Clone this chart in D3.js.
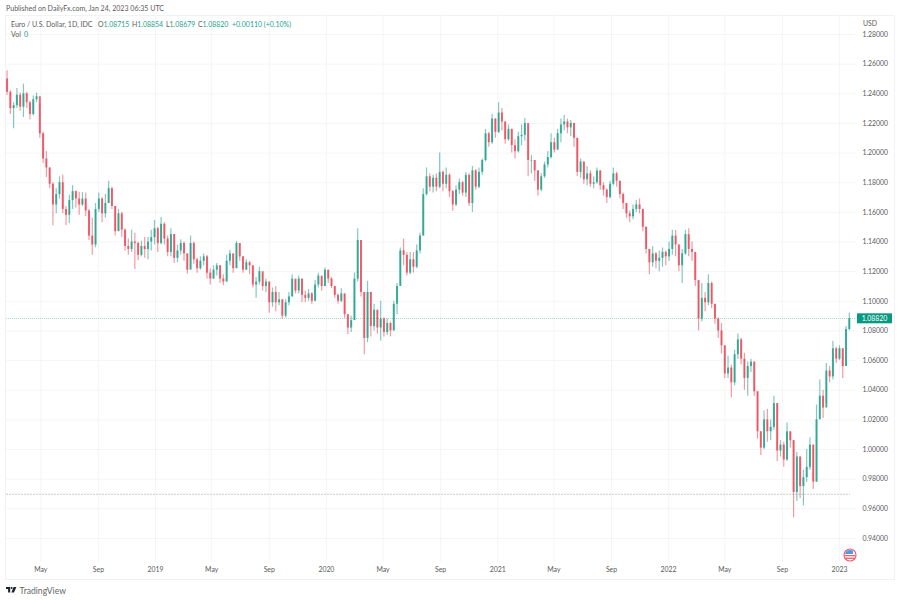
<!DOCTYPE html>
<html>
    <head>
        <meta charset="utf-8">
        <style type="text/css">
            body { margin: 0; background: #fff; font-family: Lato, sans-serif; }
            svg { display: block; }
        </style>
        <title>Euro / U.S. Dollar, 1D</title>
    </head>
    <body>
        <svg id='svgZone'></svg>
        <script src="https://cdn.jsdelivr.net/npm/d3@7"></script>
        <script>

// ============ Data (one bar per week) ============
var firstOpen = 1.2500;
var closes = [
    1.2410, 1.2300, 1.2320, 1.2390, 1.2310, 1.2400, 1.2340, 1.2260, 1.2360, 1.2380,
    1.2130, 1.1960, 1.1900, 1.1790, 1.1650, 1.1720, 1.1800, 1.1620, 1.1580, 1.1680,
    1.1740, 1.1690, 1.1650, 1.1690, 1.1610, 1.1440, 1.1380, 1.1620, 1.1690, 1.1590,
    1.1660, 1.1760, 1.1640, 1.1470, 1.1590, 1.1480, 1.1370, 1.1350, 1.1400, 1.1390,
    1.1310, 1.1370, 1.1350, 1.1400, 1.1430, 1.1490, 1.1390, 1.1520, 1.1420, 1.1330,
    1.1450, 1.1290, 1.1340, 1.1390, 1.1320, 1.1210, 1.1390, 1.1280, 1.1220, 1.1270,
    1.1300, 1.1190, 1.1150, 1.1210, 1.1240, 1.1150, 1.1130, 1.1270, 1.1320, 1.1220,
    1.1390, 1.1300, 1.1210, 1.1260, 1.1240, 1.1110, 1.1130, 1.1200, 1.1100, 1.1130,
    1.0990, 1.1060, 1.0990, 1.1010, 1.0900, 1.0990, 1.1030, 1.1150, 1.1070, 1.1150,
    1.1040, 1.1020, 1.1050, 1.1000, 1.1110, 1.1170, 1.1100, 1.1210, 1.1150, 1.1100,
    1.1040, 1.1000, 1.1050, 1.0910, 1.0820, 1.0870, 1.1150, 1.1410, 1.1060, 1.0750,
    1.1060, 1.0830, 1.0940, 1.0820, 1.0880, 1.0790, 1.0850, 1.0800, 1.0980, 1.1100,
    1.1340, 1.1310, 1.1190, 1.1280, 1.1230, 1.1340, 1.1440, 1.1720, 1.1840, 1.1770,
    1.1830, 1.1770, 1.1870, 1.1790, 1.1850, 1.1740, 1.1650, 1.1750, 1.1800, 1.1730,
    1.1850, 1.1660, 1.1880, 1.1770, 1.1870, 1.1950, 1.2130, 1.2070, 1.2230, 1.2140,
    1.2270, 1.2210, 1.2090, 1.2160, 1.2050, 1.2010, 1.2110, 1.2120, 1.2200, 1.1950,
    1.1950, 1.1880, 1.1750, 1.1840, 1.1920, 1.1970, 1.2070, 1.2020, 1.2130, 1.2190,
    1.2210, 1.2170, 1.2200, 1.2100, 1.1870, 1.1940, 1.1820, 1.1860, 1.1790, 1.1800,
    1.1880, 1.1780, 1.1750, 1.1700, 1.1790, 1.1860, 1.1810, 1.1720, 1.1660, 1.1590,
    1.1570, 1.1620, 1.1650, 1.1620, 1.1500, 1.1350, 1.1260, 1.1320, 1.1270, 1.1290,
    1.1330, 1.1300, 1.1350, 1.1440, 1.1380, 1.1240, 1.1320, 1.1450, 1.1350, 1.1330,
    1.1140, 1.0880, 1.1020, 1.0990, 1.1120, 1.0980, 1.0880, 1.0800, 1.0700, 1.0510,
    1.0550, 1.0450, 1.0640, 1.0740, 1.0610, 1.0480, 1.0560, 1.0590, 1.0390, 1.0120,
    1.0010, 1.0200, 1.0120, 1.0150, 1.0310, 0.9990, 1.0030, 0.9930, 1.0120, 1.0060,
    0.9710, 0.9950, 0.9750, 0.9810, 0.9880, 1.0030, 0.9780, 1.0200, 1.0360, 1.0280,
    1.0530, 1.0490, 1.0680, 1.0610, 1.0680, 1.0560, 1.0810, 1.0882
];
var highs = [
    1.2555, 1.2420, 1.2340, 1.2435, 1.2405, 1.2465, 1.2410, 1.2350, 1.2385, 1.2405,
    1.2330, 1.2140, 1.2010, 1.1900, 1.1800, 1.1760, 1.1840, 1.1850, 1.1640, 1.1715,
    1.1780, 1.1745, 1.1735, 1.1735, 1.1730, 1.1620, 1.1560, 1.1660, 1.1730, 1.1700,
    1.1720, 1.1810, 1.1770, 1.1640, 1.1620, 1.1600, 1.1490, 1.1420, 1.1480, 1.1460,
    1.1400, 1.1405, 1.1430, 1.1430, 1.1480, 1.1545, 1.1500, 1.1565, 1.1530, 1.1440,
    1.1490, 1.1450, 1.1380, 1.1415, 1.1400, 1.1320, 1.1440, 1.1400, 1.1290, 1.1300,
    1.1320, 1.1310, 1.1220, 1.1240, 1.1255, 1.1240, 1.1180, 1.1310, 1.1345, 1.1320,
    1.1405, 1.1390, 1.1300, 1.1280, 1.1270, 1.1240, 1.1160, 1.1230, 1.1190, 1.1150,
    1.1130, 1.1090, 1.1100, 1.1060, 1.1010, 1.1010, 1.1060, 1.1180, 1.1140, 1.1170,
    1.1150, 1.1070, 1.1080, 1.1060, 1.1140, 1.1190, 1.1160, 1.1225, 1.1210, 1.1160,
    1.1100, 1.1050, 1.1085, 1.1050, 1.0910, 1.0900, 1.1190, 1.1490, 1.1410, 1.1060,
    1.1135, 1.1060, 1.0980, 1.0940, 1.1000, 1.0890, 1.0880, 1.0860, 1.1000, 1.1120,
    1.1360, 1.1420, 1.1330, 1.1330, 1.1330, 1.1380, 1.1460, 1.1760, 1.1900, 1.1860,
    1.1850, 1.1860, 1.2000, 1.1880, 1.1900, 1.1860, 1.1750, 1.1780, 1.1825, 1.1810,
    1.1870, 1.1860, 1.1910, 1.1890, 1.1900, 1.1960, 1.2160, 1.2140, 1.2260, 1.2230,
    1.2340, 1.2300, 1.2210, 1.2190, 1.2160, 1.2090, 1.2140, 1.2190, 1.2235, 1.2190,
    1.1985, 1.1950, 1.1880, 1.1860, 1.1940, 1.2010, 1.2130, 1.2100, 1.2160, 1.2230,
    1.2256, 1.2230, 1.2220, 1.2200, 1.2100, 1.1960, 1.1940, 1.1910, 1.1880, 1.1840,
    1.1900, 1.1880, 1.1800, 1.1760, 1.1810, 1.1900, 1.1870, 1.1810, 1.1730, 1.1660,
    1.1610, 1.1650, 1.1680, 1.1690, 1.1620, 1.1500, 1.1350, 1.1370, 1.1330, 1.1340,
    1.1360, 1.1340, 1.1400, 1.1480, 1.1477, 1.1380, 1.1350, 1.1480, 1.1490, 1.1400,
    1.1330, 1.1140, 1.1120, 1.1060, 1.1180, 1.1130, 1.0980, 1.0890, 1.0850, 1.0700,
    1.0630, 1.0570, 1.0670, 1.0780, 1.0750, 1.0650, 1.0590, 1.0610, 1.0590, 1.0390,
    1.0120, 1.0260, 1.0270, 1.0200, 1.0360, 1.0310, 1.0060, 1.0050, 1.0180, 1.0120,
    1.0060, 0.9980, 0.9950, 0.9860, 1.0000, 1.0080, 1.0030, 1.0300, 1.0470, 1.0400,
    1.0580, 1.0560, 1.0730, 1.0690, 1.0700, 1.0680, 1.0830, 1.0920
];
var lows = [
    1.2390, 1.2260, 1.2165, 1.2300, 1.2280, 1.2240, 1.2300, 1.2225, 1.2250, 1.2340,
    1.2100, 1.1930, 1.1835, 1.1760, 1.1510, 1.1590, 1.1690, 1.1590, 1.1510, 1.1525,
    1.1620, 1.1630, 1.1580, 1.1640, 1.1570, 1.1410, 1.1310, 1.1360, 1.1600, 1.1530,
    1.1560, 1.1660, 1.1620, 1.1440, 1.1470, 1.1430, 1.1340, 1.1310, 1.1330, 1.1215,
    1.1275, 1.1300, 1.1290, 1.1280, 1.1340, 1.1380, 1.1330, 1.1380, 1.1380, 1.1300,
    1.1300, 1.1255, 1.1260, 1.1310, 1.1270, 1.1185, 1.1220, 1.1250, 1.1190, 1.1210,
    1.1240, 1.1150, 1.1110, 1.1150, 1.1170, 1.1120, 1.1105, 1.1130, 1.1240, 1.1190,
    1.1220, 1.1270, 1.1190, 1.1210, 1.1180, 1.1090, 1.1020, 1.1110, 1.1070, 1.1060,
    1.0920, 1.0960, 1.0930, 1.0970, 1.0880, 1.0890, 1.0970, 1.1030, 1.1050, 1.1050,
    1.0990, 1.0990, 1.1000, 1.0980, 1.1000, 1.1090, 1.1070, 1.1100, 1.1120, 1.1085,
    1.1020, 1.0980, 1.0990, 1.0885, 1.0777, 1.0790, 1.0870, 1.1130, 1.1030, 1.0640,
    1.0720, 1.0760, 1.0800, 1.0780, 1.0730, 1.0760, 1.0770, 1.0760, 1.0800, 1.0910,
    1.1100, 1.1240, 1.1170, 1.1180, 1.1190, 1.1220, 1.1320, 1.1440, 1.1710, 1.1740,
    1.1730, 1.1740, 1.1760, 1.1740, 1.1760, 1.1700, 1.1607, 1.1640, 1.1720, 1.1710,
    1.1700, 1.1640, 1.1600, 1.1750, 1.1760, 1.1850, 1.1940, 1.2040, 1.2060, 1.2100,
    1.2130, 1.2150, 1.2060, 1.2080, 1.2000, 1.1960, 1.2000, 1.2050, 1.2080, 1.1840,
    1.1860, 1.1810, 1.1710, 1.1740, 1.1830, 1.1900, 1.1960, 1.2000, 1.2020, 1.2070,
    1.2150, 1.2130, 1.2110, 1.2040, 1.1840, 1.1830, 1.1790, 1.1780, 1.1770, 1.1760,
    1.1790, 1.1750, 1.1710, 1.1660, 1.1690, 1.1780, 1.1770, 1.1690, 1.1620, 1.1560,
    1.1530, 1.1550, 1.1600, 1.1590, 1.1470, 1.1320, 1.1180, 1.1230, 1.1220, 1.1200,
    1.1230, 1.1240, 1.1270, 1.1310, 1.1300, 1.1200, 1.1120, 1.1310, 1.1300, 1.1270,
    1.1100, 1.0800, 1.0860, 1.0930, 1.0970, 1.0950, 1.0845, 1.0750, 1.0645, 1.0480,
    1.0480, 1.0350, 1.0430, 1.0610, 1.0570, 1.0400, 1.0360, 1.0520, 1.0360, 1.0070,
    0.9960, 1.0000, 1.0050, 1.0060, 1.0130, 0.9920, 0.9950, 0.9880, 0.9920, 1.0010,
    0.9540, 0.9650, 0.9670, 0.9620, 0.9780, 0.9860, 0.9730, 0.9780, 1.0210, 1.0210,
    1.0310, 1.0450, 1.0470, 1.0580, 1.0600, 1.0480, 1.0560, 1.0800
];
var lastBar = new Date(2023, 0, 23);

var priceTicks = [0.94, 0.96, 0.98, 1.00, 1.02, 1.04, 1.06, 1.08, 1.10, 1.12, 1.14,
                  1.16, 1.18, 1.20, 1.22, 1.24, 1.26, 1.28];
var timeTicks = [
    new Date(2018, 4, 1), new Date(2018, 8, 1), new Date(2019, 0, 1),
    new Date(2019, 4, 1), new Date(2019, 8, 1), new Date(2020, 0, 1),
    new Date(2020, 4, 1), new Date(2020, 8, 1), new Date(2021, 0, 1),
    new Date(2021, 4, 1), new Date(2021, 8, 1), new Date(2022, 0, 1),
    new Date(2022, 4, 1), new Date(2022, 8, 1), new Date(2023, 0, 1)
];
var lastPrice = 1.08820;
var supportPrice = 0.9695;
var legendParts = [
    ["O", "1.08715"], ["H", "1.08854"], ["L", "1.08679"], ["C", "1.08820"]
];

// ============ Constants ============
var UP_COLOR = '#1a9f8a';
var DOWN_COLOR = '#ee4455';
var TEXT_COLOR = '#5a5a5a';
var GRID_COLOR = '#f4f5f7';
var FONT_SIZE = 7.05;
var NUM_SIZE = 6.9;

var width = 900, height = 600;
var left = 6, right = 856, top_ = 15, bottom = 562;

var svg = d3.select('#svgZone')
    .attr('width', width)
    .attr('height', height);

// Axis scales
var x = d3.scaleTime()
    .domain([new Date(2019, 0, 1), new Date(2023, 0, 1)])
    .range([155, 839]);
var y = d3.scaleLinear()
    .domain([0.94, 1.28])
    .range([538, 34]);

// Join the arrays into bars, the open of a bar is the previous close
var bars = closes.map(function(c, i) {
    return {
        date: d3.timeDay.offset(lastBar, -7 * (closes.length - 1 - i)),
        open: i == 0 ? firstOpen : closes[i - 1],
        close: c,
        high: highs[i],
        low: lows[i]
    };
});
var barColor = d => d.close >= d.open ? UP_COLOR : DOWN_COLOR;

// ============ Frame and grid ============
svg.append('rect')
    .attr('x', 5.5)
    .attr('y', 15.5)
    .attr('width', 889)
    .attr('height', 564)
    .attr('fill', 'none')
    .attr('stroke', '#f0f2f5');

var yGrid = d3.axisLeft(y)
    .tickValues(priceTicks)
    .tickSize(right - left)
    .tickFormat('');
svg.append('g')
    .attr('transform', `translate(${right}, 0)`)
    .call(yGrid)
    .call(g => g.select('.domain').remove())
    .selectAll('line').attr('stroke', GRID_COLOR);

var xGrid = d3.axisTop(x)
    .tickValues(timeTicks)
    .tickSize(bottom - top_)
    .tickFormat('');
svg.append('g')
    .attr('transform', `translate(0, ${bottom})`)
    .call(xGrid)
    .call(g => g.select('.domain').remove())
    .selectAll('line').attr('stroke', GRID_COLOR);

// ============ Axes ============
var yAxis = d3.axisRight(y)
    .tickValues(priceTicks)
    .tickSize(0)
    .tickPadding(6.5)
    .tickFormat(d3.format('.5f'));
svg.append('g')
    .attr('transform', `translate(${right}, 0)`)
    .call(yAxis)
    .call(styleAxis);

var xAxis = d3.axisBottom(x)
    .tickValues(timeTicks)
    .tickSize(0)
    .tickPadding(5)
    .tickFormat(d => d.getMonth() == 0 ? d3.timeFormat('%Y')(d) : d3.timeFormat('%b')(d));
svg.append('g')
    .attr('transform', `translate(0, ${bottom})`)
    .call(xAxis)
    .call(styleAxis);

function styleAxis(g) {
    g.select('.domain').remove();
    g.selectAll('text')
        .attr('fill', TEXT_COLOR)
        .style('font-family', 'Lato, sans-serif')
        .style('font-size', NUM_SIZE + 'px');
}

// ============ Horizontal lines ============
svg.append('line')
    .attr('x1', left)
    .attr('x2', 850)
    .attr('y1', y(supportPrice))
    .attr('y2', y(supportPrice))
    .attr('stroke', '#c9cdc6')
    .attr('stroke-dasharray', '2 1')
    .attr('stroke-width', 1);
svg.append('line')
    .attr('x1', left)
    .attr('x2', right)
    .attr('y1', Math.round(y(lastPrice)) + 0.5)
    .attr('y2', Math.round(y(lastPrice)) + 0.5)
    .attr('stroke', UP_COLOR)
    .attr('stroke-opacity', 0.4)
    .attr('stroke-dasharray', '1 1');

// ============ Candles ============
var candles = svg.append('g')
    .selectAll('g')
    .data(bars)
    .enter()
    .append('g');
candles.append('line')
    .attr('x1', d => x(d.date))
    .attr('x2', d => x(d.date))
    .attr('y1', d => y(d.high))
    .attr('y2', d => y(d.low))
    .attr('stroke', barColor)
    .attr('stroke-opacity', 0.55)
    .attr('stroke-width', 1.2);
candles.append('rect')
    .attr('x', d => x(d.date) - 1)
    .attr('width', 2)
    .attr('y', d => y(Math.max(d.open, d.close)))
    .attr('height', d => Math.max(0.5, Math.abs(y(d.open) - y(d.close))))
    .attr('fill', barColor)
    .attr('fill-opacity', 0.8);

// ============ Last price label ============
svg.append('rect')
    .attr('x', 857)
    .attr('y', y(lastPrice) - 5)
    .attr('width', 35)
    .attr('height', 10)
    .attr('fill', '#089981');
svg.append('text')
    .text(d3.format('.5f')(lastPrice))
    .attr('x', 874.5)
    .attr('y', y(lastPrice) + 2.5)
    .attr('text-anchor', 'middle')
    .attr('fill', '#fff')
    .style('font-size', NUM_SIZE + 'px');

// ============ Texts ============
svg.append('text')
    .text('Published on DailyFx.com, Jan 24, 2023 06:35 UTC')
    .attr('x', 6)
    .attr('y', 11)
    .attr('fill', TEXT_COLOR)
    .style('font-size', FONT_SIZE + 'px');
svg.append('text')
    .text('USD')
    .attr('x', 863)
    .attr('y', 26)
    .attr('fill', TEXT_COLOR)
    .style('font-size', NUM_SIZE + 'px');
svg.append('text')
    .text('Euro / U.S. Dollar, 1D, IDC')
    .attr('x', 11)
    .attr('y', 27)
    .attr('fill', TEXT_COLOR)
    .style('font-size', FONT_SIZE + 'px');

var legendX = [98, 132, 166, 198];
legendParts.forEach(function(p, i) {
    var t = svg.append('text')
        .attr('x', legendX[i])
        .attr('y', 27)
        .style('font-size', NUM_SIZE + 'px');
    t.append('tspan').text(p[0]).attr('fill', TEXT_COLOR);
    t.append('tspan').text(p[1]).attr('fill', UP_COLOR);
});
svg.append('text')
    .text('+0.00110 (+0.10%)')
    .attr('x', 232)
    .attr('y', 27)
    .attr('fill', UP_COLOR)
    .style('font-size', '7px');

svg.append('text')
    .text('Vol')
    .attr('x', 11)
    .attr('y', 37)
    .attr('fill', TEXT_COLOR)
    .style('font-size', FONT_SIZE + 'px');
svg.append('text')
    .text('0')
    .attr('x', 24)
    .attr('y', 37)
    .attr('fill', UP_COLOR)
    .style('font-size', FONT_SIZE + 'px');

// ============ Flag marker ============
var flag = svg.append('g').attr('transform', 'translate(850, 555)');
flag.append('circle').attr('r', 6).attr('fill', '#fff').attr('stroke', '#f0606a').attr('stroke-width', 1.2);
flag.append('rect').attr('x', -5).attr('y', 0).attr('width', 10).attr('height', 1.3).attr('fill', '#f0606a');
flag.append('rect').attr('x', -4.5).attr('y', 2.6).attr('width', 9).attr('height', 1.3).attr('fill', '#f0606a');
flag.append('path').attr('d', 'M-5,-1 A5,5 0 0 1 3,-4 L3,-1 Z').attr('fill', '#4a9be8');

// ============ TradingView logo ============
var logo = svg.append('g').attr('transform', 'translate(6, 587)').attr('fill', '#1e222d');
logo.append('path').attr('d', 'M0,0 H4.2 V5.5 H2.1 V2 H0 Z');
logo.append('circle').attr('cx', 5.6).attr('cy', 1).attr('r', 1);
logo.append('path').attr('d', 'M7.6,0 H10.4 L8,5.5 H5.4 Z');
svg.append('text')
    .text('TradingView')
    .attr('x', 19.5)
    .attr('y', 593.5)
    .attr('fill', '#666')
    .style('font-size', '8.6px');

        </script>
    </body>
</html>
